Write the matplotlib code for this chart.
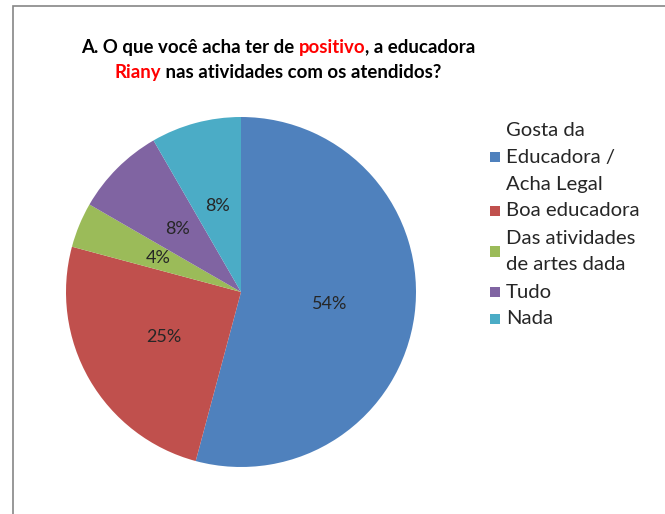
import matplotlib
matplotlib.use('Agg')

import matplotlib.pyplot as plt
from matplotlib.patches import Rectangle

categories = ['Gosta da\nEducadora /\nAcha Legal', 'Boa educadora',
              'Das atividades\nde artes dada', 'Tudo', 'Nada']
counts = [13, 6, 1, 2, 2]
colors = ['#4F81BD', '#C0504D', '#9BBB59', '#8064A2', '#4BACC6']

title_lines = [
    [('A. O que você acha ter de ', 'black'), ('positivo', '#FF0000'), (', a educadora', 'black')],
    [('Riany', '#FF0000'), (' nas atividades com os atendidos?', 'black')],
]

W, H = 665, 514
plt.rcParams['font.family'] = ['Lato', 'DejaVu Sans']
fig = plt.figure(figsize=(W / 100, H / 100), dpi=100)

# chart frame (only left and top edges fall inside the image)
fig.patches.append(Rectangle((13 / W, -0.5), 2, 1.5 - 6 / H, transform=fig.transFigure,
                             fill=False, edgecolor='#868686', linewidth=1.2))

# pie
cx, cy, r = 241, 292, 175
ax = fig.add_axes([(cx - r) / W, (H - cy - r) / H, 2 * r / W, 2 * r / H])
wedges, _, autotexts = ax.pie(counts, colors=colors, startangle=90, counterclock=False,
                              autopct='%1.0f%%', pctdistance=0.51,
                              wedgeprops=dict(linewidth=0),
                              textprops=dict(fontsize=13, color='#262626'))
ax.set_xlim(-1, 1)
ax.set_ylim(-1, 1)
ax.set_aspect('equal')

# title with coloured words; each piece is right-aligned at the width of the text up to it
fig.canvas.draw()
renderer = fig.canvas.get_renderer()
title_y = [47, 73]
title_kw = dict(fontsize=13.4, fontweight='bold', va='center')
for parts, ty in zip(title_lines, title_y):
    full = ''.join(s for s, _ in parts)
    probe = fig.text(0, 0, full, **title_kw)
    total = probe.get_window_extent(renderer).width
    start = 278 - total / 2
    prefix = ''
    for s, c in parts:
        prefix += s
        probe.set_text(prefix)
        right = start + probe.get_window_extent(renderer).width
        fig.text(right / W, 1 - ty / H, s, color=c, ha='right', **title_kw)
    probe.remove()

# legend
line_h = 27
y0 = 130
row = 0
for label, color in zip(categories, colors):
    lines = label.split('\n')
    for i, ln in enumerate(lines):
        fig.text(506 / W, 1 - (y0 + (row + i) * line_h) / H, ln, fontsize=14.6,
                 color='#262626', va='center')
    mid = y0 + (row + (len(lines) - 1) / 2) * line_h
    fig.patches.append(Rectangle((490 / W, 1 - (mid + 5) / H), 10 / W, 10 / H,
                                 transform=fig.transFigure, facecolor=color, edgecolor='none'))
    row += len(lines)

fig.savefig('out.png', dpi=100, facecolor='white')
